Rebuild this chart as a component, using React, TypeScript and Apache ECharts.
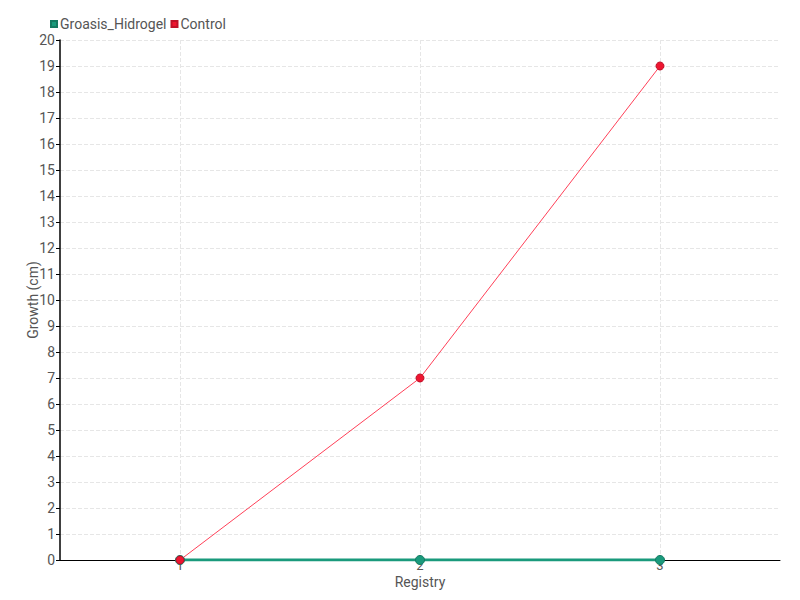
import React, { useEffect, useRef } from "react";
import * as echarts from "echarts";

const categories = ["1", "2", "3"];
const groasisValues = [0, 0, 0];
const controlValues = [0, 7, 19];
const seriesNames = ["Groasis_Hidrogel", "Control"];

const FONT = "Roboto, 'Liberation Sans Narrow', sans-serif";

export default function App() {
  const ref = useRef<HTMLDivElement>(null);
  useEffect(() => {
    if (!ref.current) return;
    const chart = echarts.init(ref.current, null, { renderer: "svg" });
    chart.setOption({
      animation: false,
      textStyle: { fontFamily: FONT },
      color: ["#1a9a7c", "#ee1530"],
      legend: {
        left: 45,
        top: 12,
        itemWidth: 6,
        itemHeight: 6,
        itemGap: 4,
        icon: "rect",
        textStyle: { fontFamily: FONT, fontSize: 14, color: "#555", padding: [0, 0, 0, -2] },
        data: seriesNames,
      },
      grid: { left: 60, right: 20, top: 40, bottom: 40 },
      xAxis: {
        type: "category",
        data: categories,
        name: "Registry",
        nameLocation: "middle",
        nameGap: 15,
        nameMoveOverlap: false,
        nameTextStyle: { fontFamily: FONT, fontSize: 14, color: "#555" },
        axisLine: { lineStyle: { color: "#000", width: 1 } },
        axisTick: { alignWithLabel: true, length: 12, lineStyle: { color: "#555" } },
        axisLabel: { margin: -1, fontFamily: FONT, fontSize: 13, color: "#555" },
        splitLine: {
          show: true,
          alignWithLabel: true,
          lineStyle: { type: "dashed", color: "#e6e6e6" },
        },
      },
      yAxis: {
        type: "value",
        min: 0,
        max: 20,
        interval: 1,
        name: "Growth (cm)",
        nameLocation: "middle",
        nameGap: 20,
        nameMoveOverlap: false,
        nameTextStyle: { fontFamily: FONT, fontSize: 14, color: "#555" },
        axisLine: { show: true, lineStyle: { color: "#000", width: 1.5 } },
        axisTick: { show: true, length: 4, inside: false, lineStyle: { color: "#000" } },
        axisLabel: { margin: 5, fontFamily: FONT, fontSize: 14, color: "#555" },
        splitLine: { show: true, lineStyle: { type: "dashed", color: "#e6e6e6" } },
      },
      series: [
        {
          name: seriesNames[0],
          type: "line",
          data: groasisValues,
          symbol: "circle",
          symbolSize: 9,
          lineStyle: { width: 3, color: "#1a9a7c" },
          itemStyle: { color: "#1a9a7c", borderColor: "#147a62", borderWidth: 1 },
        },
        {
          name: seriesNames[1],
          type: "line",
          data: controlValues,
          symbol: "circle",
          symbolSize: 8,
          lineStyle: { width: 1, color: "#ff4058" },
          itemStyle: { color: "#ee1530", borderColor: "#c01028", borderWidth: 1 },
        },
      ],
    });
    return () => chart.dispose();
  }, []);
  return <div ref={ref} style={{ width: 800, height: 600, position: "absolute", left: 0, top: 0 }} />;
}
